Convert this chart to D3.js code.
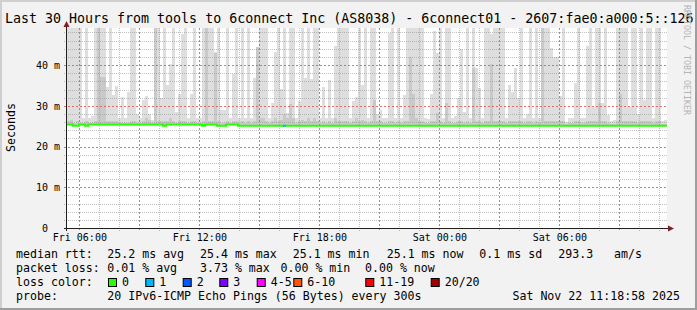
<!DOCTYPE html>
<html>
<head>
<meta charset="utf-8">
<script src="https://cdn.jsdelivr.net/npm/d3@7"></script>
<style>
  html, body { margin: 0; padding: 0; background: #f2f2f2; }
  svg { display: block; font-family: 'DejaVu Sans Mono', monospace; }
</style>
</head>
<body>
<div id="chart"></div>
<script>
// Time frame (30 hours, 200 bins of 9 minutes)
const startTime = new Date(2025, 10, 21, 5, 23, 0);
const endTime = new Date(2025, 10, 22, 11, 23, 0);
const binMinutes = 9;

// Smoke: highest ping per bin (ms), values above the top are clipped
const smokeMax = [
	50, 50, 50, 50, 50, 27, 50, 27, 27.5, 50, 50, 50, 50, 34.5, 50, 32.7, 34.9, 27, 32.2, 27, 33.3, 50, 50, 27.9, 27,
	31.4, 32.4, 27.9, 26.5, 50, 50, 32, 50, 35, 40.2, 50, 28.6, 32.9, 47.7, 50, 27, 32.9, 50, 27, 27, 50, 50, 50, 50, 43.1,
	50, 28.9, 28.9, 50, 27, 37.7, 50, 27, 50, 27, 50, 27, 36.9, 44.5, 50, 50, 50, 27, 30.8, 43.1, 50, 34.1, 50, 28.3, 50,
	50, 27, 31.2, 50, 36.9, 50, 36.5, 50, 50, 27, 34.5, 27, 36.3, 27, 44.7, 50, 50, 50, 50, 27, 31.2, 32.2, 50, 35.1, 50,
	27, 50, 50, 27.9, 28.9, 27, 27, 47.8, 50, 27, 50, 27, 32.7, 50, 50, 50, 50, 50, 50, 27, 26.7, 32.9, 48.4, 43, 50,
	27, 50, 50, 27, 27.5, 31.9, 44, 28.6, 50, 27, 50, 39.4, 34.3, 27, 50, 50, 47.7, 50, 50, 50, 50, 27, 35, 33.3, 39.4,
	31.9, 50, 27, 27.9, 50, 27, 50, 27, 50, 50, 50, 44.3, 42, 42, 32.4, 50, 26, 27, 27, 35.7, 50, 27, 27, 44.7, 50,
	29.6, 50, 50, 30.8, 50, 27.8, 26.3, 26.5, 50, 50, 50, 50, 29.6, 50, 50, 28.1, 50, 31.4, 50, 50, 27, 50, 50, 26.3, 26.5
];

// Smoke: denser (darker) part per bin (ms)
const smokeMid = [
	26.2, 26.5, 25.9, 26.2, 25.9, 25.9, 26.2, 25.9, 25.9, 26.2, 50, 37, 37, 26.2, 26.2, 26.2, 26.2, 25.9, 25.9, 25.9, 25.9, 26.2, 26.2, 25.9, 25.9,
	26.2, 27, 26.5, 25.9, 50, 26.2, 26.2, 26.2, 26.2, 27, 26.2, 25.9, 26.2, 26.2, 26.2, 25.9, 26.2, 26.2, 25.9, 25.9, 26.2, 50, 26.2, 26.2, 43,
	26.2, 25.9, 25.9, 26.2, 25.9, 26.2, 26.2, 25.9, 26.2, 25.9, 26.2, 25.9, 26.2, 44.5, 27, 27, 26.2, 25.9, 26.2, 27, 26.2, 26.5, 28, 27, 30.4,
	27, 25.9, 26.2, 26.5, 26.2, 27, 26.2, 27, 26.2, 25.9, 26.2, 25.9, 26.2, 25.9, 27, 26.2, 26.2, 26.2, 26.2, 25.9, 26.2, 27, 26.2, 26.5, 26.2,
	25.9, 26.2, 31.4, 26.2, 26.2, 25.9, 25.9, 26.2, 26.2, 25.9, 26.2, 25.9, 26.2, 26.2, 42, 32.9, 27, 26.2, 26.2, 25.9, 25.9, 26.2, 26.2, 28.3, 26.2,
	25.9, 30.8, 26.2, 25.9, 25.9, 26.2, 26.2, 25.9, 26.2, 25.9, 39.4, 26.2, 26.2, 25.9, 26.2, 26.2, 40.2, 26.2, 26.2, 26.2, 26.2, 25.9, 26.2, 26.2, 26.2,
	26.2, 26.2, 25.9, 26.2, 26.2, 25.9, 26.2, 25.9, 50, 26.2, 26.2, 26.2, 26.2, 26.2, 26.2, 26.2, 25.6, 25.9, 25.9, 26.2, 26.2, 25.9, 25.9, 26.2, 26.2,
	26.2, 26.2, 30.8, 26.2, 26.2, 25.9, 25.6, 25.6, 26.2, 32.9, 26.2, 26.2, 26.2, 26.2, 26.2, 25.9, 26.2, 26.2, 26.2, 26.2, 25.9, 26.2, 26.2, 25.6, 25.6
];

// Median rtt per bin (ms)
const medianRtt = [
	25.4, 25.4, 25.1, 25.1, 25.4, 25.4, 25.1, 25.4, 25.4, 25.4, 25.4, 25.4, 25.4, 25.4, 25.4, 25.4, 25.4, 25.4, 25.4, 25.4, 25.4, 25.4, 25.4, 25.4, 25.4,
	25.4, 25.4, 25.4, 25.4, 25.4, 25.4, 25.4, 25.1, 25.4, 25.4, 25.4, 25.4, 25.4, 25.4, 25.4, 25.4, 25.4, 25.4, 25.4, 25.4, 25.1, 25.4, 25.4, 25.4, 25.4,
	25.1, 25.1, 25.1, 25.4, 25.4, 25.4, 25.4, 25.1, 25.1, 25.1, 25.1, 25.1, 25.1, 25.1, 25.1, 25.1, 25.1, 25.1, 25.1, 25.1, 25.1, 25.1, 25.1, 25.1, 25.1,
	25.1, 25.1, 25.1, 25.1, 25.1, 25.1, 25.1, 25.1, 25.1, 25.1, 25.1, 25.1, 25.1, 25.1, 25.1, 25.1, 25.1, 25.1, 25.1, 25.1, 25.1, 25.1, 25.1, 25.1, 25.1,
	25.1, 25.1, 25.1, 25.1, 25.1, 25.1, 25.1, 25.1, 25.1, 25.1, 25.1, 25.1, 25.1, 25.1, 25.1, 25.1, 25.1, 25.1, 25.1, 25.1, 25.1, 25.1, 25.1, 25.1, 25.1,
	25.1, 25.1, 25.1, 25.1, 25.1, 25.1, 25.1, 25.1, 25.1, 25.1, 25.1, 25.1, 25.1, 25.1, 25.1, 25.1, 25.1, 25.1, 25.1, 25.1, 25.1, 25.1, 25.1, 25.1, 25.1,
	25.1, 25.1, 25.1, 25.1, 25.1, 25.1, 25.1, 25.1, 25.1, 25.1, 25.1, 25.1, 25.1, 25.1, 25.1, 25.1, 25.1, 25.1, 25.1, 25.1, 25.1, 25.1, 25.1, 25.1, 25.1,
	25.1, 25.1, 25.1, 25.1, 25.1, 25.1, 25.1, 25.1, 25.1, 25.1, 25.1, 25.1, 25.1, 25.1, 25.1, 25.1, 25.1, 25.1, 25.1, 25.1, 25.1, 25.1, 25.1, 25.1, 25.1
];

// Lost pings: [bin, pings lost of 20]
const lossEvents = [[72, 1]];

const lossLabels = ['0', '1', '2', '3', '4-5', '6-10', '11-19', '20/20'];
const lossColors = ['#26ff00', '#00b8ff', '#0059ff', '#7e00ff', '#ff00ff', '#ff5500', '#ff0000', '#a10000'];
const yTicks = [0, 10, 20, 30, 40];

const titleText = 'Last 30 Hours from tools to 6connect Inc (AS8038) - 6connect01 - 2607:fae0:a000:5::126';
const rttItems = ['median rtt:', '25.2 ms avg', '25.4 ms max', '25.1 ms min', '25.1 ms now', '0.1 ms sd', '293.3', 'am/s'];
const lossItems = ['packet loss:', '0.01 % avg', '3.73 % max', '0.00 % min', '0.00 % now'];
const probeItems = ['probe:', '20 IPv6-ICMP Echo Pings (56 Bytes) every 300s'];
const stampText = 'Sat Nov 22 11:18:58 2025';

// Layout
const W = 697, H = 310;
const plot = { left: 67, top: 28, width: 600, height: 200 };
const rttX = [16, 107.3, 200, 292.7, 386.7, 479.3, 558.3, 614];
const lossX = [16, 107.3, 200, 280.5, 365];
const boxX = [108, 145.3, 182.7, 219.3, 256.7, 293.3, 365.3, 430.7];

const lossIndex = n => (n <= 3 ? n : n <= 5 ? 4 : n <= 10 ? 5 : n <= 19 ? 6 : 7);

const svg = d3.select('#chart').append('svg').attr('width', W).attr('height', H);

// Frame
svg.append('rect').attr('width', W).attr('height', H).attr('fill', '#f2f2f2');
svg.append('rect').attr('width', W).attr('height', 2).attr('fill', '#cfcfcf');
svg.append('rect').attr('width', 2).attr('height', H).attr('fill', '#cfcfcf');
svg.append('rect').attr('y', H - 2).attr('width', W).attr('height', 2).attr('fill', '#9e9e9e');
svg.append('rect').attr('x', W - 2).attr('width', 2).attr('height', H).attr('fill', '#9e9e9e');

// Scales
const x = d3.scaleTime().domain([startTime, endTime]).range([plot.left, plot.left + plot.width]);
const y = d3.scaleLinear().domain([0, 49.1]).range([plot.top + plot.height, plot.top]);
const binStart = i => d3.timeMinute.offset(startTime, i * binMinutes);

// Canvas
svg.append('rect')
	.attr('x', plot.left).attr('y', plot.top)
	.attr('width', plot.width).attr('height', plot.height)
	.attr('fill', '#ffffff');

svg.append('defs').append('clipPath').attr('id', 'clip')
	.append('rect')
	.attr('x', plot.left).attr('y', plot.top)
	.attr('width', plot.width).attr('height', plot.height);

const data = smokeMax.map((v, i) => ({ i, max: v, mid: smokeMid[i], med: medianRtt[i] }));

const smoke = svg.append('g').attr('clip-path', 'url(#clip)');
// light smoke
smoke.selectAll('rect.hi').data(data).enter().append('rect')
	.attr('class', 'hi')
	.attr('x', d => x(binStart(d.i)))
	.attr('width', d => x(binStart(d.i + 1)) - x(binStart(d.i)))
	.attr('y', d => y(d.max))
	.attr('height', d => y(d.med) - y(d.max))
	.attr('fill', '#dedede')
	.attr('shape-rendering', 'crispEdges');
// darker smoke
smoke.selectAll('rect.mid').data(data).enter().append('rect')
	.attr('class', 'mid')
	.attr('x', d => x(binStart(d.i)))
	.attr('width', d => x(binStart(d.i + 1)) - x(binStart(d.i)))
	.attr('y', d => y(d.mid))
	.attr('height', d => y(d.med) - y(d.mid))
	.attr('fill', '#c9c9c9')
	.attr('shape-rendering', 'crispEdges');

// Grid
const grid = svg.append('g').attr('stroke-width', 1).attr('shape-rendering', 'crispEdges');
const minorCol = 'rgba(143,143,143,0.55)';
const majorCol = 'rgba(222,79,79,0.8)';
d3.timeHour.range(startTime, endTime).forEach(t => {
	const xx = Math.round(x(t)) + 0.5;
	const major = t.getHours() % 3 === 0;
	grid.append('line')
		.attr('x1', xx).attr('x2', xx)
		.attr('y1', plot.top).attr('y2', plot.top + plot.height + 3)
		.attr('stroke', major ? majorCol : minorCol)
		.attr('stroke-dasharray', major ? '2,2' : '1,1');
});
d3.range(2, 49, 2).forEach(v => {
	const yy = Math.round(y(v)) + 0.5;
	const major = v % 10 === 0;
	grid.append('line')
		.attr('x1', plot.left - 3).attr('x2', plot.left + plot.width)
		.attr('y1', yy).attr('y2', yy)
		.attr('stroke', major ? majorCol : minorCol)
		.attr('stroke-dasharray', major ? '2,2' : '1,1');
});

// Median line
const medPoints = data.map(d => [binStart(d.i), d.med]).concat([[endTime, medianRtt[medianRtt.length - 1]]]);
const medLine = d3.line()
	.x(d => x(d[0]))
	.y(d => y(d[1]))
	.curve(d3.curveStepAfter);
svg.append('path')
	.datum(medPoints)
	.attr('d', medLine)
	.attr('fill', 'none')
	.attr('stroke', lossColors[0])
	.attr('stroke-width', 2);
lossEvents.forEach(([b, n]) => {
	svg.append('line')
		.attr('x1', x(binStart(b))).attr('x2', x(binStart(b + 1)))
		.attr('y1', y(medianRtt[b])).attr('y2', y(medianRtt[b]))
		.attr('stroke', lossColors[lossIndex(n)])
		.attr('stroke-width', 2);
});

// Axes
const axisCol = '#1f1f1f';
const arrowCol = '#801f1f';
svg.append('line')
	.attr('x1', plot.left - 3).attr('x2', plot.left + plot.width + 3)
	.attr('y1', plot.top + plot.height + 0.5).attr('y2', plot.top + plot.height + 0.5)
	.attr('stroke', axisCol);
svg.append('line')
	.attr('x1', plot.left - 0.5).attr('x2', plot.left - 0.5)
	.attr('y1', plot.top + plot.height + 3).attr('y2', plot.top - 3)
	.attr('stroke', axisCol);
svg.append('path')
	.attr('d', `M${plot.left - 0.5},${plot.top - 7} L${plot.left - 3.5},${plot.top - 1} L${plot.left + 2.5},${plot.top - 1} Z`)
	.attr('fill', arrowCol);
const ax = plot.left + plot.width;
const ay = plot.top + plot.height + 0.5;
svg.append('path')
	.attr('d', `M${ax + 7},${ay} L${ax + 1},${ay - 3} L${ax + 1},${ay + 3} Z`)
	.attr('fill', arrowCol);

const xAxis = d3.axisBottom(x)
	.ticks(d3.timeHour.every(6))
	.tickFormat(d3.timeFormat('%a %H:%M'))
	.tickSize(0)
	.tickPadding(6);
const gx = svg.append('g')
	.attr('transform', 'translate(0,' + (plot.top + plot.height) + ')')
	.call(xAxis);
gx.select('.domain').remove();
gx.selectAll('text').attr('font-family', "'DejaVu Sans Mono', monospace").attr('font-size', 10).attr('fill', '#000');

const yAxis = d3.axisLeft(y)
	.tickValues(yTicks)
	.tickFormat(d => (d === 0 ? '0\u00a0\u00a0' : d + ' m'))
	.tickSize(0)
	.tickPadding(7);
const gy = svg.append('g')
	.attr('transform', 'translate(' + plot.left + ',0)')
	.call(yAxis);
gy.select('.domain').remove();
gy.selectAll('text').attr('font-family', "'DejaVu Sans Mono', monospace").attr('font-size', 10).attr('fill', '#000');

// Texts
svg.append('text')
	.attr('x', 5).attr('y', 23)
	.attr('font-size', 13.3)
	.text(titleText);

svg.append('text')
	.attr('transform', 'translate(15,127.5) rotate(-90)')
	.attr('text-anchor', 'middle')
	.attr('font-size', 11.6)
	.text('Seconds');

svg.append('text')
	.attr('transform', 'translate(684,5) rotate(90)')
	.attr('font-size', 8.3)
	.attr('fill', '#b4b4b4')
	.text('RRDTOOL / TOBI OETIKER');

// Legend
const legend = svg.append('g').attr('font-size', 11.6).attr('fill', '#000');
rttItems.forEach((t, k) => legend.append('text').attr('x', rttX[k]).attr('y', 258).text(t));
lossItems.forEach((t, k) => legend.append('text').attr('x', lossX[k]).attr('y', 272).text(t));
legend.append('text').attr('x', 16).attr('y', 286).text('loss color:');
lossLabels.forEach((t, k) => {
	legend.append('rect')
		.attr('x', boxX[k] + 0.5).attr('y', 278.5)
		.attr('width', 8).attr('height', 8)
		.attr('fill', lossColors[k])
		.attr('stroke', '#000');
	legend.append('text').attr('x', boxX[k] + 14).attr('y', 286).text(t);
});
legend.append('text').attr('x', 16).attr('y', 300).text(probeItems[0]);
legend.append('text').attr('x', 107.3).attr('y', 300).text(probeItems[1]);
legend.append('text').attr('x', 680).attr('y', 300).attr('text-anchor', 'end').text(stampText);
</script>
</body>
</html>
